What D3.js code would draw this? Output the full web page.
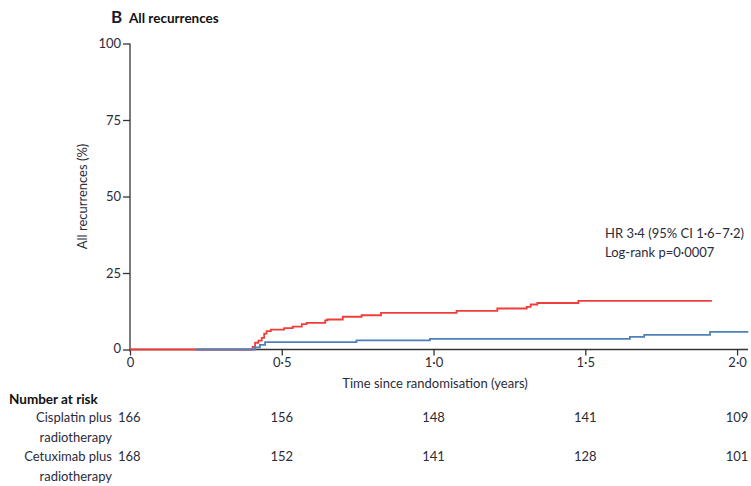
<!DOCTYPE html>
<html><head><meta charset="utf-8">
<script src="https://cdn.jsdelivr.net/npm/d3@7"></script>
<style>
body{margin:0;background:#fff;}
svg{display:block;font-family:Lato, "Open Sans", sans-serif;}
</style></head><body>
<svg id="c" width="751" height="486"></svg>
<script>
// ---- data ----
const xTicks = [0, 0.5, 1, 1.5, 2];
const xTickLabels = ["0", "0·5", "1·0", "1·5", "2·0"];
const yTicks = [0, 25, 50, 75, 100];
const redTimes  = [0, 0.404, 0.412, 0.423, 0.434, 0.442, 0.450, 0.464, 0.508, 0.536, 0.566, 0.582, 0.643, 0.650, 0.701, 0.763, 0.827, 1.076, 1.210, 1.307, 1.320, 1.342, 1.477, 1.917];
const redValues = [0, 0.85, 2.2, 2.9, 3.8, 5.2, 6.0, 6.5, 7.0, 7.5, 8.3, 8.7, 9.5, 9.8, 10.7, 11.2, 12.0, 12.6, 13.4, 13.9, 14.7, 15.2, 15.9, 15.9];
const blueTimes  = [0.217, 0.412, 0.428, 0.445, 0.746, 0.988, 1.647, 1.694, 1.911, 2.037];
const blueValues = [0, 0.7, 1.5, 2.4, 3.0, 3.5, 4.1, 4.8, 5.75, 5.75];
const riskGroups = [["Cisplatin plus", "radiotherapy"], ["Cetuximab plus", "radiotherapy"]];
const riskCisplatin = [166, 156, 148, 141, 109];
const riskCetuximab = [168, 152, 141, 128, 101];
const annotation = ["HR 3·4 (95% CI 1·6–7·2)", "Log-rank p=0·0007"];

// ---- drawing ----
const svg = d3.select("#c");
const x = d3.scaleLinear().domain([0, 2.036]).range([130, 748]);
const y = d3.scaleLinear().domain([0, 100]).range([349.5, 43.5]);
const axisCol = "#333";
const textCol = "#2b2b3a";

// title
svg.append("text").attr("x", 111).attr("y", 23).attr("font-size", 17).attr("font-weight", 700).attr("fill", "#1a1a2e").text("B");
svg.append("text").attr("x", 129).attr("y", 23).attr("font-size", 13.5).attr("font-weight", 700).attr("fill", "#111").text("All recurrences");

// y axis
const yAxis = svg.append("g").attr("transform", `translate(${x(0)},0)`)
  .call(d3.axisLeft(y).tickValues(yTicks).tickSize(7).tickPadding(2).tickFormat(d3.format("d")));
yAxis.selectAll("path").attr("stroke", axisCol).attr("stroke-width", 1.3).attr("d", `M0,${y(100)}H0V${y(0)+2}`);
yAxis.selectAll("line").attr("stroke", axisCol).attr("stroke-width", 1.3);
yAxis.selectAll("text").attr("font-size", 13).attr("fill", textCol).attr("font-family", "Lato, sans-serif");
yAxis.selectAll(".tick").filter(d => d === 0).select("text").attr("dy", "0.2em");

// x axis
const xAxis = svg.append("g").attr("transform", `translate(0,${y(0)})`)
  .call(d3.axisBottom(x).tickValues(xTicks).tickSize(6).tickPadding(2).tickFormat((d, i) => xTickLabels[i]));
xAxis.selectAll("path").attr("stroke", axisCol).attr("stroke-width", 1.3).attr("d", `M${x(0)},0H${x(2.036)}`);
xAxis.selectAll("line").attr("stroke", axisCol).attr("stroke-width", 1.3);
xAxis.selectAll("text").attr("font-size", 13).attr("fill", textCol).attr("font-family", "Lato, sans-serif");

// axis titles
svg.append("text").attr("transform", `translate(87,${(y(0)+y(100))/2}) rotate(-90)`)
  .attr("text-anchor", "middle").attr("font-size", 13).attr("fill", textCol).text("All recurrences (%)");
svg.append("text").attr("x", 435).attr("y", 388).attr("text-anchor", "middle")
  .attr("font-size", 13).attr("fill", textCol).text("Time since randomisation (years)");

// curves
const line = d3.line().x(d => x(d[0])).y(d => y(d[1])).curve(d3.curveStepAfter);
const red = redTimes.map((t, i) => [t, redValues[i]]);
const blue = blueTimes.map((t, i) => [t, blueValues[i]]);
svg.append("path").attr("d", line(red)).attr("fill", "none").attr("stroke", "#ef3e3a").attr("stroke-width", 1.8);
svg.append("path").attr("d", line(blue)).attr("fill", "none").attr("stroke", "#4f80b7").attr("stroke-width", 1.8);

// annotation
svg.append("g").selectAll("text").data(annotation).join("text")
  .attr("x", 605).attr("y", (d, i) => 238 + i * 19).attr("font-size", 13).attr("fill", textCol).text(d => d);

// risk table
svg.append("text").attr("x", 9).attr("y", 404).attr("font-size", 13.5).attr("font-weight", 700).attr("fill", "#111").text("Number at risk");
const rowY = [422, 461];
riskGroups.forEach((g, gi) => {
  g.forEach((s, li) => {
    svg.append("text").attr("x", 112).attr("y", rowY[gi] + li * 20).attr("text-anchor", "end")
      .attr("font-size", 13).attr("fill", textCol).text(s);
  });
});
[riskCisplatin, riskCetuximab].forEach((row, ri) => {
  svg.append("g").selectAll("text").data(row).join("text")
    .attr("x", (d, i) => x(xTicks[i])).attr("y", rowY[ri]).attr("text-anchor", (d, i) => i === 0 ? "start" : "middle")
    .attr("dx", (d, i) => i === 0 ? -12 : 0)
    .attr("font-size", 13).attr("fill", textCol).text(d => d);
});
</script>
</body></html>
